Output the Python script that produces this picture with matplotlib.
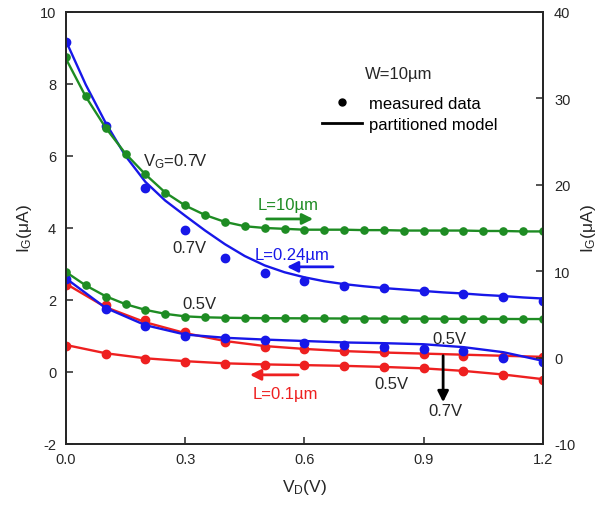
import numpy as np
import matplotlib
matplotlib.use('Agg')
import matplotlib.pyplot as plt
from matplotlib.lines import Line2D

plt.rcParams['font.family'] = ['Liberation Sans', 'DejaVu Sans']
plt.rcParams['mathtext.fontset'] = 'custom'
plt.rcParams['mathtext.rm'] = 'Liberation Sans'
plt.rcParams['mathtext.it'] = 'Liberation Sans:italic'
plt.rcParams['mathtext.bf'] = 'Liberation Sans:bold'
plt.rcParams['axes.unicode_minus'] = False

# ---------------- data ----------------
vd_fine = [0.00, 0.05, 0.10, 0.15, 0.20, 0.25, 0.30, 0.35, 0.40, 0.45, 0.50, 0.55,
           0.60, 0.65, 0.70, 0.75, 0.80, 0.85, 0.90, 0.95, 1.00, 1.05, 1.10, 1.15, 1.20]
vd_coarse = [0.0, 0.1, 0.2, 0.3, 0.4, 0.5, 0.6, 0.7, 0.8, 0.9, 1.0, 1.1, 1.2]

# L = 10 um (right axis), measured and model
g07_meas = [34.8, 30.3, 26.6, 23.6, 21.2, 19.1, 17.6, 16.5, 15.7, 15.2, 15.0, 14.9,
            14.8, 14.8, 14.8, 14.75, 14.75, 14.7, 14.7, 14.7, 14.7, 14.65, 14.65, 14.6, 14.6]
g07_model = [34.6, 30.2, 26.6, 23.6, 21.2, 19.1, 17.6, 16.5, 15.7, 15.2, 15.0, 14.9,
             14.8, 14.8, 14.8, 14.75, 14.75, 14.7, 14.7, 14.7, 14.7, 14.65, 14.65, 14.6, 14.6]
g05_meas = [9.87, 8.42, 7.04, 6.21, 5.50, 5.04, 4.75, 4.67, 4.62, 4.58, 4.56, 4.55,
            4.54, 4.53, 4.52, 4.52, 4.51, 4.50, 4.50, 4.49, 4.48, 4.48, 4.47, 4.46, 4.46]
g05_model = [9.90, 8.35, 7.10, 6.18, 5.52, 5.06, 4.77, 4.66, 4.61, 4.58, 4.56, 4.55,
             4.54, 4.53, 4.52, 4.52, 4.51, 4.50, 4.50, 4.49, 4.48, 4.48, 4.47, 4.46, 4.46]

# L = 0.24 um (left axis)
b07_meas = [9.16, 6.84, 5.11, 3.94, 3.16, 2.74, 2.54, 2.40, 2.33, 2.24, 2.17, 2.07, 1.98]
b07_model = [9.20, 7.98, 6.92, 6.00, 5.28, 4.76, 4.34, 3.93, 3.55, 3.22, 2.96, 2.77,
             2.63, 2.52, 2.44, 2.38, 2.33, 2.29, 2.25, 2.21, 2.18, 2.14, 2.11, 2.07, 2.04]
b05_meas = [2.58, 1.75, 1.27, 1.01, 0.94, 0.90, 0.81, 0.76, 0.69, 0.64, 0.57, 0.39, 0.27]
b05_model = [2.60, 1.78, 1.30, 1.04, 0.95, 0.90, 0.86, 0.82, 0.80, 0.77, 0.69, 0.55, 0.31]

# L = 0.1 um (left axis)
r_up_meas = [2.42, 1.86, 1.43, 1.10, 0.84, 0.69, 0.64, 0.57, 0.55, 0.50, 0.45, 0.42, 0.41]
r_up_model = [2.45, 1.80, 1.38, 1.08, 0.86, 0.72, 0.64, 0.58, 0.54, 0.51, 0.48, 0.45, 0.42]
r_lo_meas = [0.73, 0.50, 0.36, 0.29, 0.22, 0.19, 0.18, 0.17, 0.15, 0.10, 0.02, -0.08, -0.22]
r_lo_model = [0.75, 0.52, 0.38, 0.30, 0.24, 0.21, 0.19, 0.17, 0.14, 0.10, 0.03, -0.07, -0.20]

xticks = [0.0, 0.3, 0.6, 0.9, 1.2]
xticklabels = ['0.0', '0.3', '0.6', '0.9', '1.2']
yticks_left = [-2, 0, 2, 4, 6, 8, 10]
yticks_right = [-10, 0, 10, 20, 30, 40]

GREEN = '#1e8c23'
BLUE = '#1717e8'
RED = '#ee2020'
DARK = '#262626'

# ---------------- figure ----------------
fig = plt.figure(figsize=(6.1, 5.06), dpi=100)
ax = fig.add_axes([0.108, 0.1206, 0.782, 0.8538])
ax2 = ax.twinx()

lw = 1.7
ax.plot(vd_fine, b07_model, color=BLUE, lw=lw, zorder=3)
ax.plot(vd_coarse, b07_meas, 'o', color=BLUE, ms=6, zorder=4)
ax.plot(vd_coarse, r_up_model, color=RED, lw=lw, zorder=2)
ax.plot(vd_coarse, r_up_meas, 'o', color=RED, ms=6, zorder=2)
ax.plot(vd_coarse, b05_model, color=BLUE, lw=lw, zorder=3)
ax.plot(vd_coarse, b05_meas, 'o', color=BLUE, ms=6, zorder=3)
ax.plot(vd_coarse, r_lo_model, color=RED, lw=lw, zorder=2)
ax.plot(vd_coarse, r_lo_meas, 'o', color=RED, ms=6, zorder=2)

ax2.plot(vd_fine, g07_model, color=GREEN, lw=lw)
ax2.plot(vd_fine, g07_meas, 'o', color=GREEN, ms=5.2)
ax2.plot(vd_fine, g05_model, color=GREEN, lw=lw)
ax2.plot(vd_fine, g05_meas, 'o', color=GREEN, ms=5.2)

ax.set_xlim(0, 1.2)
ax.set_ylim(-2, 10)
ax2.set_ylim(-10, 40)
ax.set_xticks(xticks)
ax.set_xticklabels(xticklabels)
ax.set_yticks(yticks_left)
ax2.set_yticks(yticks_right)

for a in (ax, ax2):
    for s in a.spines.values():
        s.set_linewidth(1.3)
        s.set_color(DARK)
ax.tick_params(axis='both', direction='in', length=5, width=1.1, labelsize=10.5,
               colors=DARK, pad=6)
ax.tick_params(axis='y', pad=7)
ax2.tick_params(axis='y', direction='in', length=5, width=1.1, labelsize=10.5,
                colors=DARK, pad=8)

ax.set_xlabel(r'V$_\mathregular{D}$(V)', fontsize=12.5, color=DARK, labelpad=8)
ax.set_ylabel(r'I$_\mathregular{G}$($\mathregular{\mu}$A)', fontsize=12.5, color=DARK, labelpad=4)
ax2.set_ylabel(r'I$_\mathregular{G}$($\mathregular{\mu}$A)', fontsize=12.5, color=DARK, labelpad=3)

fs = 12
ax.text(0.194, 5.86, r'V$_\mathregular{G}$=0.7V', fontsize=fs, color=DARK, ha='left', va='center')
ax.text(0.558, 4.64, 'L=10µm', fontsize=fs, color=GREEN, ha='center', va='center')
ax.text(0.312, 3.47, '0.7V', fontsize=fs, color=DARK, ha='center', va='center')
ax.text(0.569, 3.25, 'L=0.24µm', fontsize=fs, color=BLUE, ha='center', va='center')
ax.text(0.335, 1.89, '0.5V', fontsize=fs, color=DARK, ha='center', va='center')
ax.text(0.964, 0.92, '0.5V', fontsize=fs, color=DARK, ha='center', va='center')
ax.text(0.820, -0.31, '0.5V', fontsize=fs, color=DARK, ha='center', va='center')
ax.text(0.956, -1.08, '0.7V', fontsize=fs, color=DARK, ha='center', va='center')
ax.text(0.553, -0.61, 'L=0.1µm', fontsize=fs, color=RED, ha='center', va='center')
ax.text(0.752, 8.28, 'W=10µm', fontsize=fs, color=DARK, ha='left', va='center')

ap = dict(arrowstyle='-|>', lw=2.0, mutation_scale=16, shrinkA=0, shrinkB=0)
ax.annotate('', xy=(0.622, 4.25), xytext=(0.505, 4.25), arrowprops=dict(color=GREEN, **ap))
ax.annotate('', xy=(0.556, 2.92), xytext=(0.672, 2.92), arrowprops=dict(color=BLUE, **ap))
ax.annotate('', xy=(0.463, -0.08), xytext=(0.584, -0.08), arrowprops=dict(color=RED, **ap))
ax.annotate('', xy=(0.949, -0.84), xytext=(0.949, 0.45), arrowprops=dict(color='black', **ap))

handles = [Line2D([], [], marker='o', ls='none', color='black', ms=5),
           Line2D([], [], color='black', lw=2.0)]
ax.legend(handles, ['measured data', 'partitioned model'], loc='upper left',
          bbox_to_anchor=(0.537, 0.806), frameon=False, fontsize=12,
          handlelength=2.4, handletextpad=0.4, labelspacing=0.38,
          borderpad=0, borderaxespad=0)

fig.savefig('out.png', dpi=100)
